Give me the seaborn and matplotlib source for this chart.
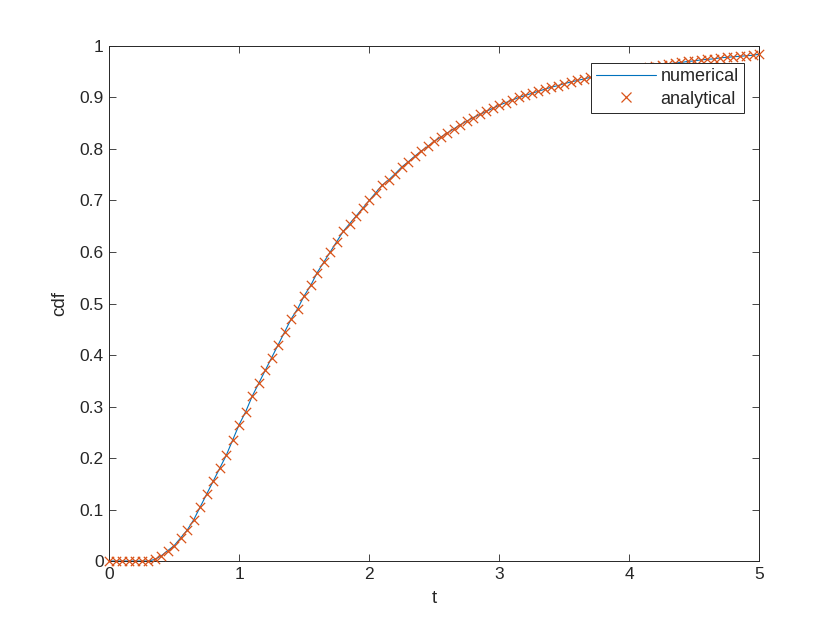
import matplotlib
matplotlib.use("Agg")
import matplotlib.pyplot as plt
import seaborn as sns
import numpy as np
import pandas as pd
from matplotlib.lines import Line2D

t_values = [round(0.05 * i, 2) for i in range(101)]
cdf_values = [
    0.0, 0.0, 0.0, 0.0, 0.0, 0.0, 0.0, 0.003, 0.01, 0.02,
    0.03, 0.045, 0.06, 0.08, 0.105, 0.13, 0.155, 0.18, 0.205, 0.235,
    0.265, 0.29, 0.32, 0.345, 0.37, 0.395, 0.42, 0.445, 0.47, 0.49,
    0.515, 0.535, 0.56, 0.58, 0.60, 0.62, 0.64, 0.655, 0.67, 0.685,
    0.70, 0.715, 0.73, 0.74, 0.752, 0.765, 0.775, 0.786, 0.796, 0.805,
    0.815, 0.823, 0.831, 0.839, 0.847, 0.854, 0.861, 0.867, 0.873, 0.879,
    0.885, 0.89, 0.895, 0.90, 0.904, 0.908, 0.912, 0.916, 0.92, 0.923,
    0.927, 0.93, 0.933, 0.936, 0.939, 0.942, 0.944, 0.947, 0.949, 0.951,
    0.954, 0.956, 0.958, 0.96, 0.962, 0.963, 0.965, 0.967, 0.968, 0.97,
    0.971, 0.973, 0.974, 0.975, 0.977, 0.978, 0.979, 0.98, 0.981, 0.982,
    0.984,
]
numerical_values = cdf_values
x_ticks = [0, 1, 2, 3, 4, 5]
y_ticks = [0, 0.1, 0.2, 0.3, 0.4, 0.5, 0.6, 0.7, 0.8, 0.9, 1]
y_tick_labels = ["0", "0.1", "0.2", "0.3", "0.4", "0.5", "0.6", "0.7", "0.8", "0.9", "1"]

sns.set_theme(style="white")
plt.rcParams["font.family"] = ["Liberation Sans", "DejaVu Sans"]

df = pd.DataFrame({"t": t_values, "numerical": numerical_values, "analytical": cdf_values})

fig = plt.figure(figsize=(8.4, 6.3), dpi=100)
ax = fig.add_axes([0.13, 0.1095, 0.7738, 0.8175])

line_color = "#0072BD"
mark_color = "#D95319"
dark = "#262626"

sns.lineplot(data=df, x="t", y="numerical", ax=ax, color=line_color, linewidth=0.8)
sns.scatterplot(data=df, x="t", y="analytical", ax=ax, marker="x", color=mark_color,
                s=45, linewidth=0.9, zorder=3, clip_on=False)

ax.set_xlim(0, 5)
ax.set_ylim(0, 1)
ax.set_xticks(x_ticks)
ax.set_xticklabels([str(v) for v in x_ticks])
ax.set_yticks(y_ticks)
ax.set_yticklabels(y_tick_labels)
ax.tick_params(direction="in", length=5, width=0.6, colors=dark, labelsize=12.5,
               top=True, right=True, bottom=True, left=True, pad=4)
for s in ax.spines.values():
    s.set_color(dark)
    s.set_linewidth(0.7)
ax.set_xlabel("t", fontsize=13.5, color=dark, labelpad=6)
ax.set_ylabel("cdf", fontsize=13.5, color=dark, labelpad=8)

handles = [
    Line2D([], [], color=line_color, linewidth=0.8),
    Line2D([], [], color=mark_color, marker="x", linestyle="none", markersize=7, markeredgewidth=0.9),
]
leg = ax.legend(handles, ["numerical", "analytical"], loc="upper right",
                bbox_to_anchor=(0.977, 0.967), fontsize=13, frameon=True,
                fancybox=False, framealpha=1, edgecolor=dark, borderpad=0.3,
                handlelength=3.3, labelspacing=0.3, borderaxespad=0, handletextpad=0.28)
leg.get_frame().set_linewidth(0.7)
leg.set_zorder(10)

fig.savefig("out.png", dpi=100, facecolor="white")
